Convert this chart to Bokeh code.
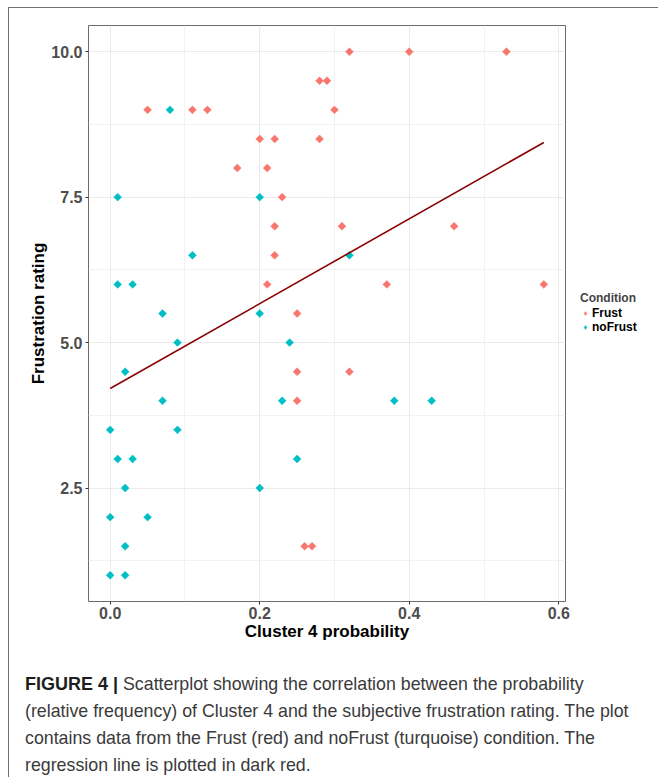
from bokeh.plotting import figure
from bokeh.layouts import column, row
from bokeh.models import (ColumnDataSource, Legend, LegendItem, FixedTicker, Div,
                          Range1d, InlineStyleSheet, NumeralTickFormatter)
from bokeh.embed import file_html
from bokeh.resources import INLINE

# ---------------- data ----------------
frust_x = [0.32, 0.40, 0.53,
           0.28, 0.29,
           0.05, 0.11, 0.13, 0.30,
           0.20, 0.22, 0.28,
           0.17, 0.21,
           0.23,
           0.22, 0.31, 0.46,
           0.22,
           0.21, 0.37, 0.58,
           0.25,
           0.25, 0.32,
           0.25,
           0.26, 0.27]
frust_y = [10.0, 10.0, 10.0,
           9.5, 9.5,
           9.0, 9.0, 9.0, 9.0,
           8.5, 8.5, 8.5,
           8.0, 8.0,
           7.5,
           7.0, 7.0, 7.0,
           6.5,
           6.0, 6.0, 6.0,
           5.5,
           4.5, 4.5,
           4.0,
           1.5, 1.5]

nofrust_x = [0.08,
             0.01, 0.20,
             0.11, 0.32,
             0.01, 0.03,
             0.07, 0.20,
             0.09, 0.24,
             0.02,
             0.07, 0.23, 0.38, 0.43,
             0.00, 0.09,
             0.01, 0.03, 0.25,
             0.02, 0.20,
             0.00, 0.05,
             0.02,
             0.00, 0.02]
nofrust_y = [9.0,
             7.5, 7.5,
             6.5, 6.5,
             6.0, 6.0,
             5.5, 5.5,
             5.0, 5.0,
             4.5,
             4.0, 4.0, 4.0, 4.0,
             3.5, 3.5,
             3.0, 3.0, 3.0,
             2.5, 2.5,
             2.0, 2.0,
             1.5,
             1.0, 1.0]

# regression line end points (as drawn in the reference)
reg_x = [0.0, 0.58]
reg_y = [4.21, 8.44]

x_ticks = [0.0, 0.2, 0.4, 0.6]
x_minor = [0.1, 0.3, 0.5]
y_ticks = [2.5, 5.0, 7.5, 10.0]
y_minor = [1.25, 3.75, 6.25, 8.75]

series_names = ["Frust", "noFrust"]
series_colors = ["#F8766D", "#00BFC4"]

x_title = "Cluster 4 probability"
y_title = "Frustration rating"
legend_title = "Condition"

caption_bold = "FIGURE 4 |"
caption_lines = [
    "Scatterplot showing the correlation between the probability",
    "(relative frequency) of Cluster 4 and the subjective frustration rating. The plot",
    "contains data from the Frust (red) and noFrust (turquoise) condition. The",
    "regression line is plotted in dark red.",
]

# ---------------- main figure ----------------
FONT = "Liberation Sans"
MARKER = dict(marker="square", angle=0.785398, size=5.6, line_width=0.5)
KEY_MARKER = dict(marker="diamond", size=8, line_width=0.5)

p = figure(width=575, height=655, output_backend="svg", toolbar_location=None,
           x_range=Range1d(-0.029, 0.609), y_range=Range1d(0.55, 10.45),
           min_border_left=88, min_border_right=10, min_border_top=25,
           min_border_bottom=54)

p.background_fill_color = "white"
p.border_fill_color = None
p.outline_line_color = "#6b6b6b"
p.outline_line_width = 1

for g in (p.xgrid, p.ygrid):
    g.grid_line_color = "#EBEBEB"
    g.grid_line_width = 1
    g.minor_grid_line_color = "#F2F2F2"
    g.minor_grid_line_width = 1

p.xaxis.ticker = FixedTicker(ticks=x_ticks, minor_ticks=x_minor)
p.yaxis.ticker = FixedTicker(ticks=y_ticks, minor_ticks=y_minor)
p.xaxis.formatter = NumeralTickFormatter(format="0.0")
p.yaxis.formatter = NumeralTickFormatter(format="0.0")

for ax in (p.xaxis, p.yaxis):
    ax.axis_line_color = None
    ax.major_tick_line_color = "#333333"
    ax.major_tick_in = 0
    ax.major_tick_out = 3
    ax.minor_tick_line_color = None
    ax.major_label_text_font = FONT
    ax.major_label_text_font_style = "bold"
    ax.major_label_text_font_size = "16px"
    ax.major_label_text_color = "#4D4D4D"
    ax.axis_label_text_font = FONT
    ax.axis_label_text_font_style = "bold"
    ax.axis_label_text_font_size = "17px"
    ax.axis_label_text_color = "black"

p.xaxis.axis_label = x_title
p.yaxis.axis_label = y_title
p.xaxis.major_label_standoff = 1
p.yaxis.major_label_standoff = 2
p.xaxis.axis_label_standoff = 0
p.yaxis.axis_label_standoff = 0

src_f = ColumnDataSource(dict(x=frust_x, y=frust_y))
src_n = ColumnDataSource(dict(x=nofrust_x, y=nofrust_y))

p.scatter("x", "y", source=src_f, fill_color=series_colors[0],
          line_color=series_colors[0], **MARKER)
p.scatter("x", "y", source=src_n, fill_color=series_colors[1],
          line_color=series_colors[1], **MARKER)
p.line(reg_x, reg_y, line_color="#8B0000", line_width=1.6)

# ---------------- legend (separate narrow figure at the right) ----------------
lf = figure(width=83, height=655, output_backend="svg", toolbar_location=None,
            x_range=Range1d(0, 1), y_range=Range1d(0, 1),
            x_axis_type=None, y_axis_type=None,
            min_border_left=0, min_border_right=0, min_border_top=0,
            min_border_bottom=0)
lf.outline_line_color = None
lf.background_fill_color = None
lf.border_fill_color = None
lf.xgrid.visible = False
lf.ygrid.visible = False
# key renderers: one off-range point each, only used to draw the legend keys
lr_f = lf.scatter("x", "y", source=ColumnDataSource(dict(x=[-9.0], y=[-9.0])),
                  fill_color=series_colors[0], line_color=series_colors[0], **KEY_MARKER)
lr_n = lf.scatter("x", "y", source=ColumnDataSource(dict(x=[-9.0], y=[-9.0])),
                  fill_color=series_colors[1], line_color=series_colors[1], **KEY_MARKER)

legend = Legend(items=[LegendItem(label=series_names[0], renderers=[lr_f]),
                       LegendItem(label=series_names[1], renderers=[lr_n])],
                title=legend_title, location=(5, 267),
                padding=0, margin=0, spacing=0, border_line_color=None,
                background_fill_alpha=0, glyph_width=10, glyph_height=14,
                label_height=14, label_standoff=2, title_standoff=1)
legend.title_text_font = FONT
legend.title_text_font_style = "bold"
legend.title_text_font_size = "12px"
legend.label_text_font = FONT
legend.label_text_font_style = "bold"
legend.label_text_font_size = "12px"
legend.label_text_color = "black"
lf.add_layout(legend, "center")

# ---------------- caption ----------------
caption_html = (
    "<div style=\"font-family:'Liberation Sans',Arial,sans-serif; font-size:17.8px; "
    "line-height:27px; color:#3a3a3a; padding:11px 0 0 20px; margin:0; white-space:nowrap;\">"
    "<b style=\"color:#1e1e1e; font-size:18px; margin-right:0px;\">" + caption_bold + "</b> "
    + "<br>".join(caption_lines) + "</div>"
)
cap = Div(text=caption_html, width=658, height=122, styles={"overflow": "hidden"})

layout = column(row(p, lf, spacing=0), cap, spacing=0)
layout.stylesheets = [InlineStyleSheet(css=(
    ":host { background: "
    "linear-gradient(#707070,#707070) 8px 7px / 650px 1px no-repeat, "
    "linear-gradient(#707070,#707070) 8px 7px / 1px 770px no-repeat, white; }"))]

open("out.html", "w").write(file_html(layout, INLINE))
